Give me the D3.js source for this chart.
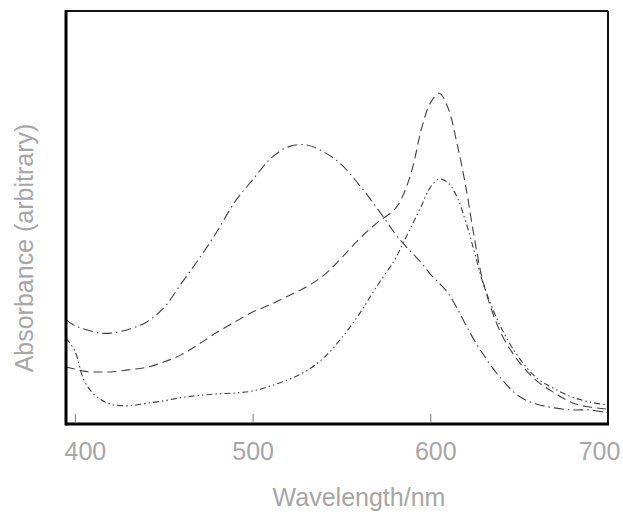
<!DOCTYPE html>
<html>
<head>
<meta charset="utf-8">
<script src="https://cdn.jsdelivr.net/npm/d3@7"></script>
<style>
  body { margin: 0; background: #fff; }
  svg text { font-family: "Liberation Sans", Arial, sans-serif; fill: #a6a6a6; }
</style>
</head>
<body>
<svg id="chart" width="623" height="512"></svg>
<script>
// wavelengths (nm)
var wavelengths = [395,400,405,410,415,420,430,440,450,460,470,480,490,500,510,520,530,540,550,560,
                   570,580,585,590,595,600,605,610,615,620,625,630,640,650,660,670,680,690,700];
// broad band, peak ~530 nm (dash-dot)
var seriesA = [.252,.238,.230,.224,.220,.220,.229,.246,.281,.341,.401,.466,.538,.591,.642,.671,.676,.659,.628,.579,
               .523,.462,.436,.413,.390,.363,.341,.317,.281,.240,.201,.167,.109,.067,.048,.039,.034,.034,.027];
// sharp band at ~605 nm with shoulder (dashed)
var seriesB = [.138,.133,.128,.126,.126,.126,.131,.137,.150,.168,.194,.222,.247,.271,.289,.310,.331,.360,.402,.448,
               .487,.520,.557,.620,.714,.777,.801,.765,.680,.574,.446,.339,.218,.150,.104,.075,.051,.041,.036];
// lowest curve, peak ~605 nm (fine dash-dot-dot)
var seriesC = [.208,.177,.107,.075,.058,.048,.044,.050,.056,.064,.069,.073,.075,.080,.092,.107,.128,.160,.208,.266,
               .334,.398,.441,.484,.528,.573,.593,.584,.550,.489,.414,.337,.232,.160,.111,.085,.065,.053,.046];
var tickValues = [400, 500, 600, 700];

var svg = d3.select('#chart');
var padLeft = 66, padRight = 608, padTop = 11, padBottom = 424;

var x = d3.scaleLinear().domain([395, 700]).range([padLeft, padRight]);
var y = d3.scaleLinear().domain([0, 1]).range([padBottom, padTop]);

var series = [
  { values: seriesA, dash: '10,4,1.5,4' },
  { values: seriesB, dash: '9,5' },
  { values: seriesC, dash: '6,3,1.5,3,1.5,3' }
];

var line = d3.line()
    .x(function(d) { return x(d[0]); })
    .y(function(d) { return y(d[1]); })
    .curve(d3.curveCatmullRom.alpha(0.5));

svg.selectAll('.spectrum')
    .data(series)
  .enter().append('path')
    .attr('class', 'spectrum')
    .attr('fill', 'none')
    .attr('stroke', '#404040')
    .attr('stroke-width', 1.1)
    .attr('stroke-dasharray', function(s) { return s.dash; })
    .attr('d', function(s) {
      return line(wavelengths.map(function(w, i) { return [w, s.values[i]]; }));
    });

// bottom axis: small inward ticks, labels below
var xAxis = d3.axisBottom(x)
    .tickValues(tickValues)
    .tickSize(-8)
    .tickPadding(0)
    .tickFormat(d3.format('d'));

var gx = svg.append('g')
    .attr('transform', 'translate(0,' + (padBottom - 2) + ')')
    .call(xAxis);
gx.select('.domain').remove();
gx.selectAll('.tick line').attr('stroke', '#777').attr('stroke-width', 1);
// the scanned labels sit a little off their ticks at both ends
var labelShift = { 400: 10, 500: 0, 600: 5, 700: -9 };
gx.selectAll('.tick text')
    .attr('y', 38)
    .attr('dy', null)
    .attr('dx', function(d) { return labelShift[d]; })
    .style('font-size', '25px')
    .attr('fill', '#a6a6a6');

// frame
svg.append('line').attr('x1', padLeft).attr('x2', padRight).attr('y1', padTop).attr('y2', padTop)
    .attr('stroke', '#111').attr('stroke-width', 2);
svg.append('line').attr('x1', padRight).attr('x2', padRight).attr('y1', padTop).attr('y2', padBottom)
    .attr('stroke', '#111').attr('stroke-width', 2);
svg.append('line').attr('x1', padLeft).attr('x2', padLeft).attr('y1', padTop - 1).attr('y2', padBottom + 1.5)
    .attr('stroke', '#000').attr('stroke-width', 3);
svg.append('line').attr('x1', padLeft).attr('x2', padRight + 1).attr('y1', padBottom).attr('y2', padBottom)
    .attr('stroke', '#000').attr('stroke-width', 3);

svg.append('text')
    .attr('x', 359).attr('y', 506)
    .attr('text-anchor', 'middle')
    .style('font-size', '25px')
    .text('Wavelength/nm');

svg.append('text')
    .attr('transform', 'translate(33,248) rotate(-90)')
    .attr('text-anchor', 'middle')
    .style('font-size', '25px')
    .text('Absorbance (arbitrary)');
</script>
</body>
</html>
